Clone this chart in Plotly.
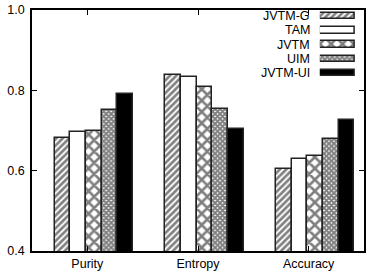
import plotly.graph_objects as go

categories = ["Purity", "Entropy", "Accuracy"]
series_names = ["JVTM-G", "TAM", "JVTM", "UIM", "JVTM-UI"]
jvtm_g = [0.681, 0.838, 0.604]
tam = [0.696, 0.833, 0.629]
jvtm = [0.698, 0.808, 0.636]
uim = [0.751, 0.753, 0.679]
jvtm_ui = [0.792, 0.704, 0.726]
series_values = [jvtm_g, tam, jvtm, uim, jvtm_ui]
y_ticks = [0.4, 0.6, 0.8, 1.0]

# styling
bar_w = 0.142
offsets = [-0.225, -0.083, 0.059, 0.201, 0.343]
styles = [
    dict(color="white", pattern=dict(shape="/", size=4.5, solidity=0.6, fgcolor="black", bgcolor="white")),
    dict(color="white"),
    dict(color="white", pattern=dict(shape="x", size=8, solidity=0.55, fgcolor="black", bgcolor="white")),
    dict(color="white", pattern=dict(shape="x", size=3.5, solidity=0.8, fgcolor="black", bgcolor="white")),
    dict(color="black"),
]

fig = go.Figure()
for j, (name, vals) in enumerate(zip(series_names, series_values)):
    xs = [i + offsets[j] for i in range(len(categories))]
    m = dict(styles[j])
    m["line"] = dict(color="#222", width=1.5)
    fig.add_trace(go.Bar(x=xs, y=vals, width=bar_w, marker=m, name=name, showlegend=False))
    # legend swatch on an overlay axis
    fig.add_trace(go.Bar(x=[1.0], y=[j], base=[0], orientation="h", width=0.45, marker=m,
                         xaxis="x2", yaxis="y2", showlegend=False, hoverinfo="skip"))
    fig.add_annotation(x=0.843, y=j, xref="paper", yref="y2", text=name, showarrow=False,
                       xanchor="right", yanchor="middle", font=dict(size=12.5, color="black"))

axis_common = dict(showline=True, linecolor="black", linewidth=1.5, mirror="ticks",
                   ticks="inside", ticklen=5, tickwidth=1, tickcolor="black",
                   showgrid=False, zeroline=False, automargin=False,
                   tickfont=dict(size=12.5, color="black"))

fig.update_layout(
    width=374, height=276,
    margin=dict(l=32, r=10, t=10, b=25, pad=0),
    plot_bgcolor="white", paper_bgcolor="white",
    font=dict(family="Liberation Sans, Arial, sans-serif", size=12, color="black"),
    bargap=0,
    xaxis=dict(range=[-0.5, 2.5], tickvals=list(range(len(categories))), ticktext=categories, **axis_common),
    yaxis=dict(range=[0.4, 1.0], tickvals=y_ticks, tickformat=".1f", ticklabelstandoff=3, **axis_common),
    xaxis2=dict(domain=[0.867, 0.973], range=[0, 1], visible=False, anchor="y2", automargin=False),
    yaxis2=dict(domain=[0.70, 1.0], range=[4.64, -0.42], visible=False, anchor="x2", automargin=False),
)

fig.write_html("out.html")
